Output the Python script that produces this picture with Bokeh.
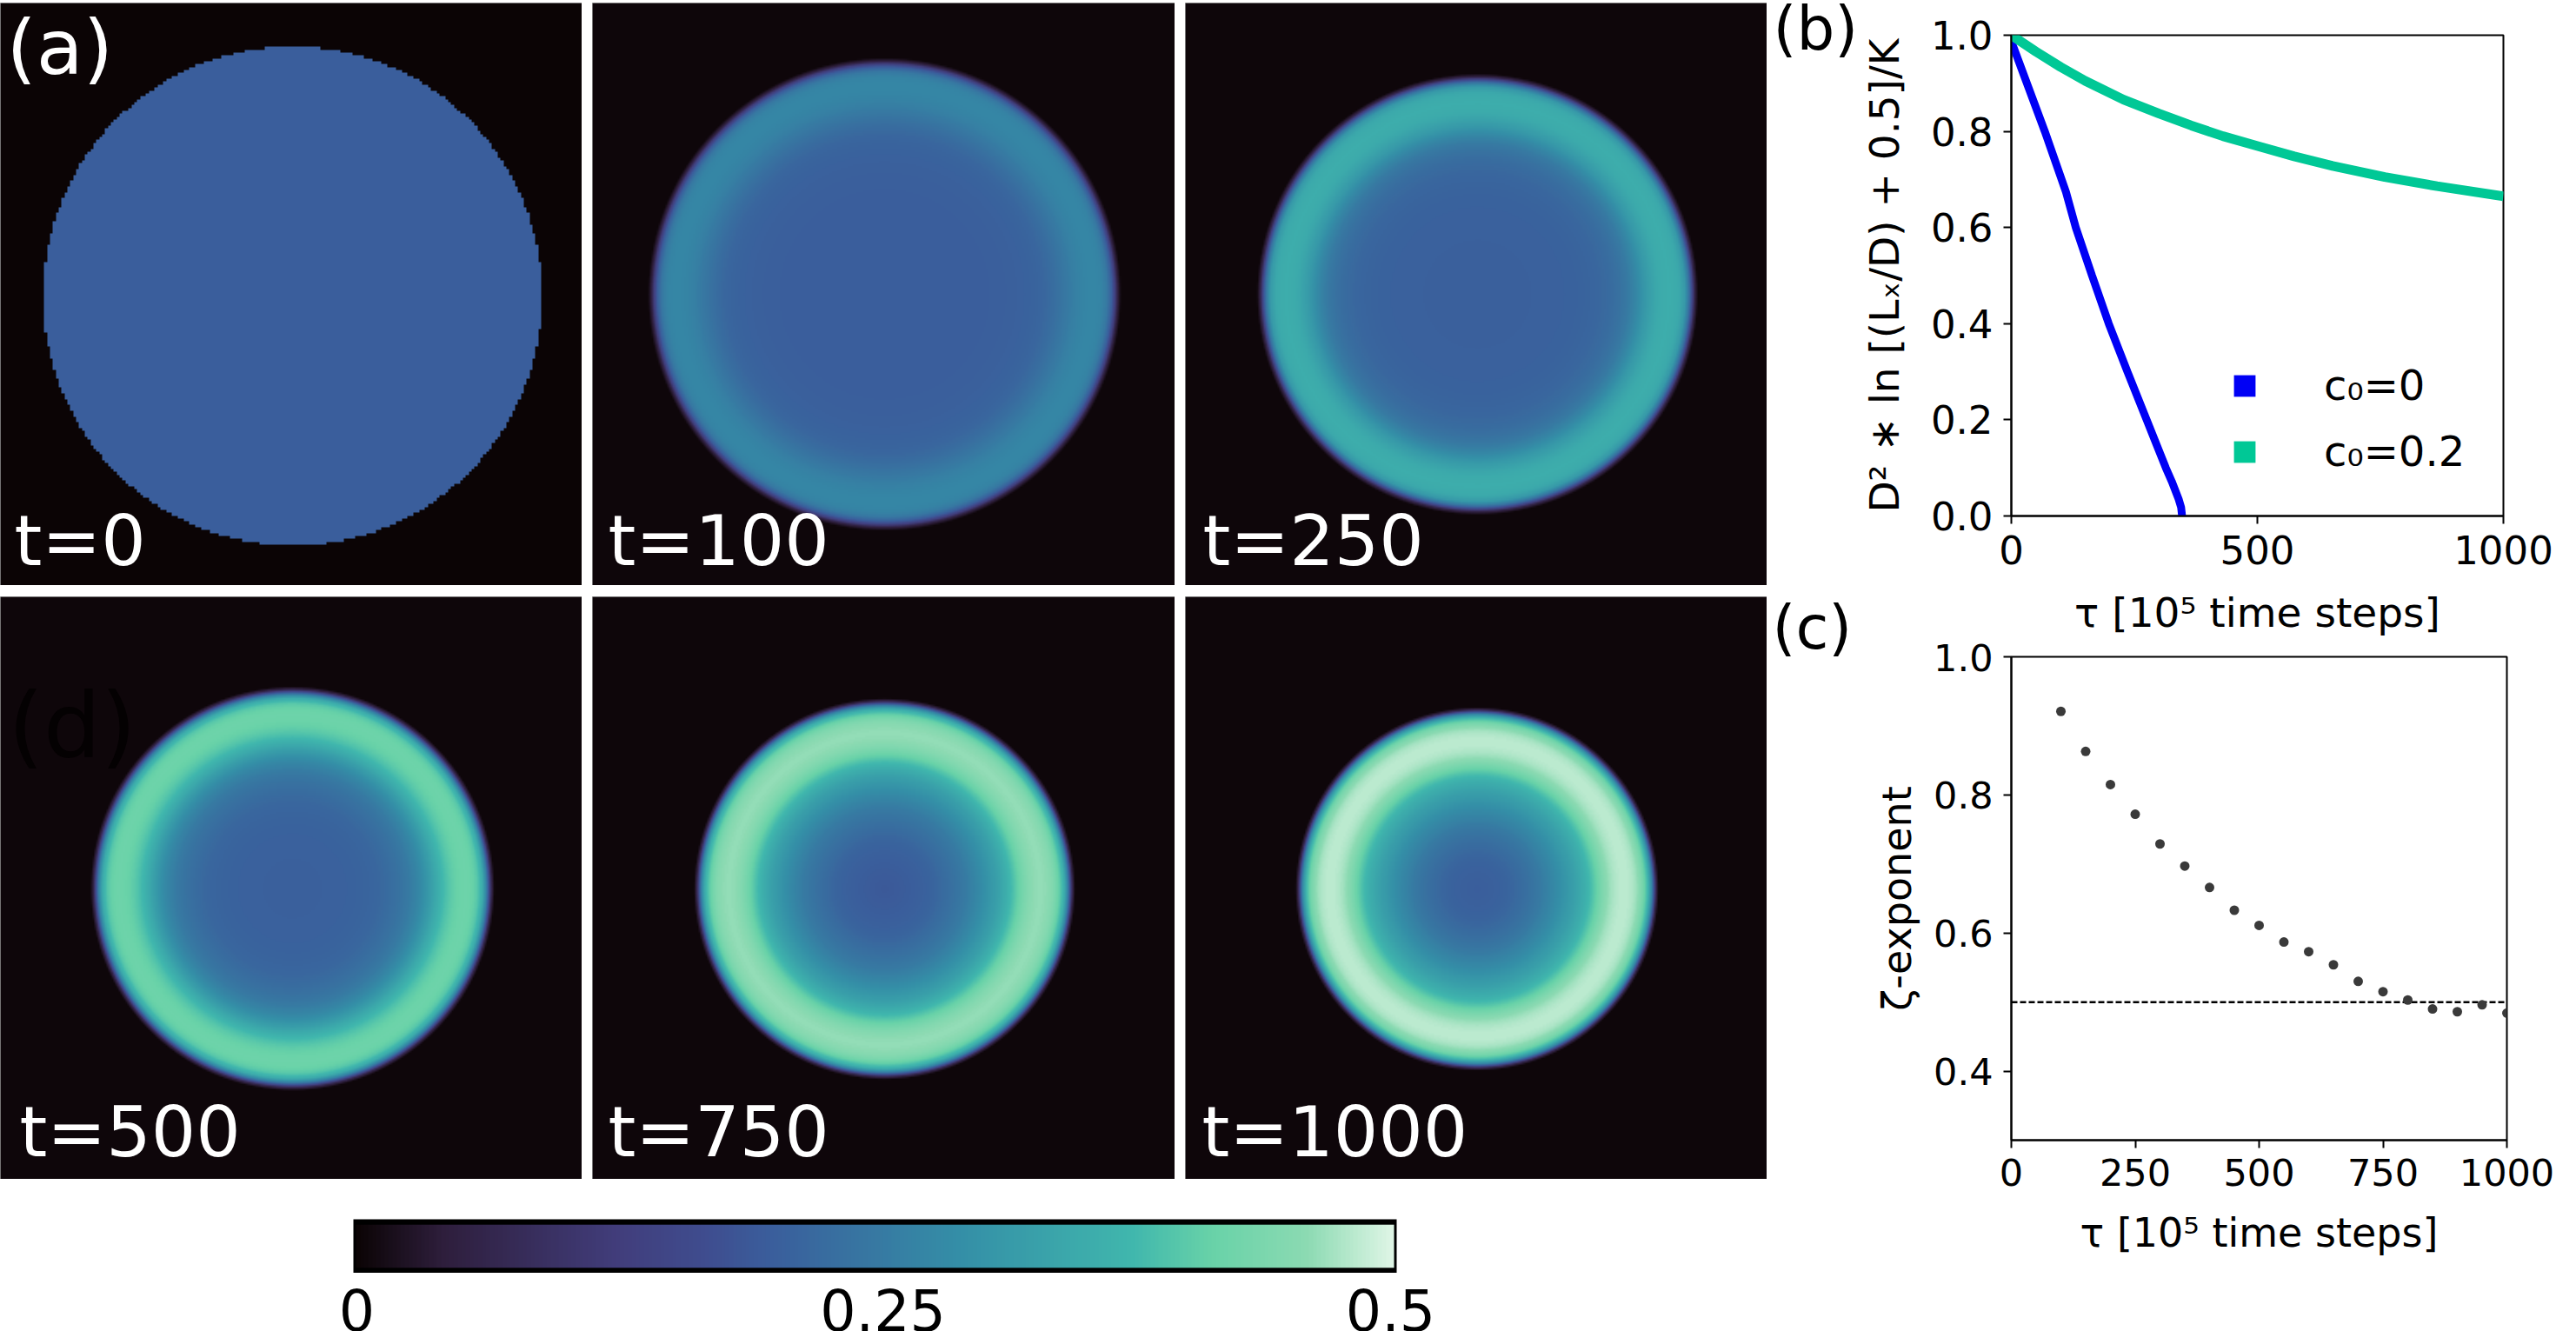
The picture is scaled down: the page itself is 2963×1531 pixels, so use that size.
import numpy as np
from bokeh.core.properties import value
from bokeh.embed import file_html
from bokeh.layouts import column, row
from bokeh.models import FixedTicker, Legend, LegendItem, LinearColorMapper, Range1d
from bokeh.plotting import figure
from bokeh.resources import INLINE

FONT = "DejaVu Sans"
BASE_FIX = 0.35  # text baseline correction, in em

# ---------- colour scale (0 .. 0.5) ----------
cmap_stops = [0.0, 0.083, 0.25, 0.333, 0.4, 0.583, 0.75, 0.825, 0.917, 1.0]
cmap_hex = ["#0B0405", "#2E1E3C", "#413D7B", "#3F4C8E", "#3A5E9C", "#348FA7", "#40B7AD", "#68D2A8", "#8BDAB2", "#DEF5E5"]
cbar_ticks = [0, 0.25, 0.5]
cbar_labels = ["0", "0.25", "0.5"]

# ---------- density panels: radial profile of each snapshot ----------
panel_names = ["t=0", "t=100", "t=250", "t=500", "t=750", "t=1000"]
profile_r = [0, .15, .25, .35, .45, .55, .62, .68, .72, .78, .84, .9, .93, .955, .975, .99, 1.0, 1.015]
profile_100 = [.200, .200, .200, .200, .201, .204, .208, .215, .225, .250, .270, .277, .274, .250, .200, .125, .050, .004]
profile_250 = [.205, .205, .205, .206, .208, .215, .225, .245, .265, .318, .352, .356, .348, .310, .235, .140, .055, .004]
profile_500 = [.205, .205, .206, .210, .218, .240, .265, .305, .345, .395, .418, .420, .402, .350, .260, .150, .060, .004]
profile_750 = [.190, .200, .210, .232, .258, .300, .335, .380, .420, .458, .464, .450, .410, .360, .270, .155, .060, .004]
profile_1000 = [.200, .208, .225, .250, .285, .328, .365, .420, .458, .480, .484, .468, .430, .370, .280, .160, .060, .004]
initial_density = 0.2

# ---------- panel (b) ----------
b_tau_c0 = [0, 68, 111, 131, 164, 198, 236, 275, 314, 326, 340, 345, 347]
b_val_c0 = [0.987, 0.80, 0.674, 0.60, 0.50, 0.40, 0.30, 0.20, 0.10, 0.072, 0.035, 0.018, 0.0]
b_tau_c2 = [0, 50, 100, 150, 228, 300, 366, 430, 499, 575, 653, 759, 865, 1000]
b_val_c2 = [1.0, 0.966, 0.934, 0.905, 0.866, 0.837, 0.812, 0.790, 0.770, 0.748, 0.728, 0.705, 0.686, 0.665]
b_xticks = [0, 500, 1000]
b_yticks = [0.0, 0.2, 0.4, 0.6, 0.8, 1.0]

# ---------- panel (c) ----------
c_tau = [100, 150, 200, 250, 300, 350, 400, 450, 500, 550, 600, 650, 700, 750, 800, 850, 900, 950, 1000]
c_zeta = [.921, .863, .815, .772, .729, .697, .666, .633, .611, .587, .573, .554, .530, .515, .503, .490, .486, .496, .484]
c_reference = 0.5
c_xticks = [0, 250, 500, 750, 1000]
c_yticks = [0.4, 0.6, 0.8, 1.0]


def build_palette(n=256):
    rgb = np.array([[int(h[i:i + 2], 16) for i in (1, 3, 5)] for h in cmap_hex], float)
    t = np.linspace(0, 1, n)
    chans = [np.interp(t, cmap_stops, rgb[:, k]) for k in range(3)]
    return ["#%02x%02x%02x" % (int(round(r)), int(round(g)), int(round(b))) for r, g, b in zip(*chans)]


palette = build_palette()
mapper = LinearColorMapper(palette=palette, low=0, high=0.5)


def soften(prof):
    """Take the corners off a radial profile, leaving the sharp rim alone."""
    fine_r = np.linspace(-0.3, 1.3, 3201)
    raw = np.interp(np.abs(fine_r), profile_r, prof)
    kernel_x = np.arange(-120, 121) * (fine_r[1] - fine_r[0])
    kernel = np.exp(-0.5 * (kernel_x / 0.022) ** 2)
    smooth = np.convolve(raw, kernel / kernel.sum(), mode="same")
    w = np.clip((fine_r - 0.90) / 0.05, 0, 1)
    return fine_r, smooth * (1 - w) + raw * w


def radial_image(prof, cx, cy, R, W, H, n):
    xs = (np.arange(n) + 0.5) * W / n
    ys = (np.arange(n) + 0.5) * H / n
    X, Y = np.meshgrid(xs, ys)
    rr = np.hypot(X - cx, Y - cy) / R
    fine_r, fine_v = soften(prof)
    return np.interp(rr, fine_r, fine_v).astype("float32")


def panel(prof, label, w, h, x0, y0, cx, cy, R, margin, n=335, tag=None, tag_color="white", tag_size=84, tag_pos=None, lab_x=18, lab_base=None):
    p = figure(width=w, height=h, x_range=Range1d(0, w), y_range=Range1d(0, h), toolbar_location=None,
               output_backend="svg", min_border=0, margin=margin, x_axis_location=None, y_axis_location=None)
    p.xgrid.visible = False
    p.ygrid.visible = False
    p.outline_line_color = "#9a9a9a"
    p.outline_line_width = 1
    p.background_fill_color = "#0B0405"
    data_cx, data_cy = cx - x0, (y0 + h) - cy
    if prof is None:
        xs = (np.arange(n) + 0.5) * w / n
        ys = (np.arange(n) + 0.5) * h / n
        X, Y = np.meshgrid(xs, ys)
        img = np.where(np.hypot(X - data_cx, Y - data_cy) <= R, initial_density, 0.0).astype("float32")
    else:
        img = radial_image(prof, data_cx, data_cy, R, w, h, n)
    p.image(image=[img], x=0, y=0, dw=w, dh=h, color_mapper=mapper)
    p.text(x=[lab_x], y=[(y0 + h) - lab_base + BASE_FIX * 81], text=[label], text_color="white", text_font=value(FONT),
           text_font_size="81px", text_baseline="alphabetic", text_align="left")
    if tag:
        p.text(x=[tag_pos[0]], y=[(y0 + h) - tag_pos[1] + BASE_FIX * tag_size], text=[tag], text_color=tag_color, text_font=value(FONT),
               text_font_size=f"{tag_size}px", text_baseline="alphabetic", text_align="left")
    return p


pa = panel(None, panel_names[0], 669, 670, 0, 3, 336, 340, 287, (3, 0, 0, 0), n=200, tag="(a)", tag_size=88, tag_pos=(7, 85), lab_x=16, lab_base=650)
pb = panel(profile_100, panel_names[1], 670, 670, 681, 3, 1017, 338, 268, (3, 0, 0, 12), lab_x=18, lab_base=650)
pc = panel(profile_250, panel_names[2], 669, 670, 1363, 3, 1699, 338, 250, (3, 0, 0, 12), lab_x=20, lab_base=650)
pd = panel(profile_500, panel_names[3], 669, 670, 0, 686, 336, 1021.5, 229, (13, 0, 0, 0), tag="(d)", tag_color="#040102", tag_size=104, tag_pos=(9, 871), lab_x=22, lab_base=1330)
pe = panel(profile_750, panel_names[4], 670, 670, 681, 686, 1017, 1022, 216, (13, 0, 0, 12), lab_x=18, lab_base=1330)
pf = panel(profile_1000, panel_names[5], 669, 670, 1363, 686, 1698.5, 1022, 206, (13, 0, 0, 12), lab_x=19, lab_base=1330)

# ---------- colour bar ----------
pad = 0.5 * 3 / 1194
cb = figure(width=2032, height=108, x_range=Range1d(-pad, 0.5 + pad), y_range=Range1d(0, 1), toolbar_location=None,
            output_backend="svg", min_border_left=406, min_border_right=426, min_border_top=46, min_border_bottom=0,
            x_axis_location=None, y_axis_location=None)
cb.xgrid.visible = False
cb.ygrid.visible = False
cb.outline_line_color = None
cb.background_fill_color = "black"
ramp = np.linspace(0, 0.5, 256).reshape(1, -1).astype("float32")
cb.image(image=[ramp], x=0, y=0.1, dw=0.5, dh=0.8, color_mapper=mapper)

# tick labels of the colour bar, on the same scale, in a strip below it
per_px = (0.5 + 2 * pad) / 1200
cl = figure(width=2032, height=67, x_range=Range1d(-pad - 406 * per_px, 0.5 + pad + 426 * per_px), y_range=Range1d(0, 67),
            toolbar_location=None, output_backend="svg", min_border=0, x_axis_location=None, y_axis_location=None,
            frame_align=False)
cl.xgrid.visible = False
cl.ygrid.visible = False
cl.outline_line_color = None
nudge_px = [1, 9, -4]
cl.text(x=[t + d * per_px for t, d in zip(cbar_ticks, nudge_px)], y=[2 + BASE_FIX * 65] * 3, text=cbar_labels,
        text_color="black", text_font=value(FONT), text_font_size="65px", text_align="center", text_baseline="alphabetic")


def style_axes(p, tick_size, label_size, xticks, yticks, xstand, ystand, xlabstand, ylabstand):
    for ax, ticks in ((p.xaxis[0], xticks), (p.yaxis[0], yticks)):
        ax.ticker = FixedTicker(ticks=ticks)
        ax.major_label_text_font = FONT
        ax.major_label_text_font_size = f"{tick_size}px"
        ax.major_label_text_color = "black"
        ax.axis_label_text_font = FONT
        ax.axis_label_text_font_size = f"{label_size}px"
        ax.axis_label_text_font_style = "normal"
        ax.axis_label_text_color = "black"
        ax.axis_line_width = 2
        ax.major_tick_line_width = 2
        ax.major_tick_out = 9
        ax.major_tick_in = 0
        ax.minor_tick_line_color = None
    p.xaxis[0].major_label_standoff = xstand
    p.yaxis[0].major_label_standoff = ystand
    p.xaxis[0].axis_label_standoff = xlabstand
    p.yaxis[0].axis_label_standoff = ylabstand
    p.xaxis[0].major_label_overrides = {t: str(t) for t in xticks}
    p.yaxis[0].major_label_overrides = {t: f"{t:.1f}" for t in yticks}
    p.xgrid.visible = False
    p.ygrid.visible = False
    p.outline_line_color = "black"
    p.outline_line_width = 2
    p.border_fill_color = None


# ---------- panel (b) ----------
fb = figure(width=829, height=740, x_range=Range1d(0, 1000), y_range=Range1d(0, 1), toolbar_location=None,
            output_backend="svg", frame_width=576, frame_height=553, min_border_left=178, min_border_right=75,
            min_border_top=40, min_border_bottom=147, margin=(0, 0, 0, -10),
            x_axis_label="τ [10⁵ time steps]", y_axis_label="D² ∗ ln [(Lₓ/D) + 0.5]/K")
style_axes(fb, 45, 47, b_xticks, b_yticks, 13, 12, 25, 23)
r0 = fb.line(b_tau_c0, b_val_c0, line_color="#0000F5", line_width=9)
r2 = fb.line(b_tau_c2, b_val_c2, line_color="#00C896", line_width=11)
blank = [float("nan")]
sq0 = fb.quad(left=blank, right=blank, top=blank, bottom=blank, fill_color="#0000F5", line_color=None)
sq2 = fb.quad(left=blank, right=blank, top=blank, bottom=blank, fill_color="#00C896", line_color=None)
leg = Legend(items=[LegendItem(label="c₀=0", renderers=[sq0]), LegendItem(label="c₀=0.2", renderers=[sq2])],
             location=(253, 46), orientation="vertical", background_fill_alpha=0, border_line_color=None,
             glyph_width=31, glyph_height=31, label_standoff=76, spacing=20, margin=0, padding=0,
             label_text_font=FONT, label_text_font_size="48px", label_text_color="black")
fb.add_layout(leg)

# ---------- panel (c) ----------
fc = figure(width=829, height=791, x_range=Range1d(0, 1000), y_range=Range1d(0.3, 1.0), toolbar_location=None,
            output_backend="svg", frame_width=580, frame_height=556, min_border_left=179, min_border_right=70,
            min_border_top=15, min_border_bottom=220, margin=(0, 0, 0, -10),
            x_axis_label="τ [10⁵ time steps]", y_axis_label="ζ-exponent")
style_axes(fc, 43, 46, c_xticks, c_yticks, 12, 12, 24, 12)
fc.line([0, 1000], [c_reference, c_reference], line_color="black", line_width=2.5, line_dash="7 3")
fc.scatter(c_tau, c_zeta, size=11, fill_color="#3a3a3a", line_color=None)

# ---------- (b) (c) tags in a narrow strip ----------
strip = figure(width=112, height=1531, x_range=Range1d(0, 112), y_range=Range1d(0, 1531), toolbar_location=None,
               output_backend="svg", min_border=0, x_axis_location=None, y_axis_location=None)
strip.xgrid.visible = False
strip.ygrid.visible = False
strip.outline_line_color = None
strip.text(x=[7, 6], y=[1531 - 57 + BASE_FIX * 69, 1531 - 746 + BASE_FIX * 69], text=["(b)", "(c)"], text_color="black", text_font=value(FONT),
           text_font_size="69px", text_baseline="alphabetic", text_align="left")

left = column(row(pa, pb, pc), row(pd, pe, pf), cb, cl)
right = column(fb, fc)
page = row(left, strip, right)

open("out.html", "w").write(file_html(page, INLINE))
